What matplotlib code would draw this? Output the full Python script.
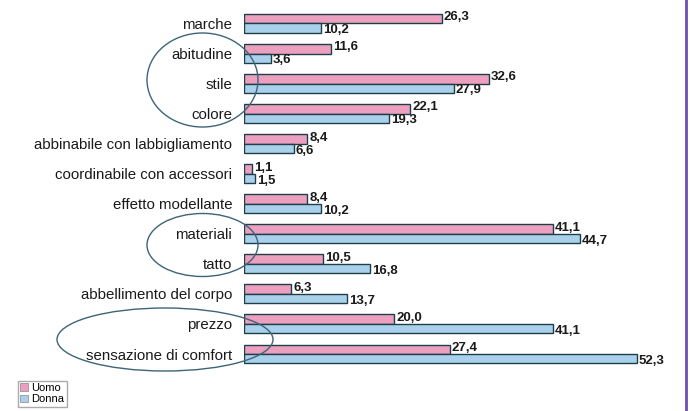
import matplotlib.pyplot as plt
import numpy as np
from matplotlib.patches import Ellipse, Patch
from matplotlib.lines import Line2D

plt.rcParams['font.family'] = ['Liberation Sans', 'DejaVu Sans']

categories = ['marche', 'abitudine', 'stile', 'colore',
              'abbinabile con labbigliamento', 'coordinabile con accessori',
              'effetto modellante', 'materiali', 'tatto',
              'abbellimento del corpo', 'prezzo', 'sensazione di comfort']
uomo = [26.3, 11.6, 32.6, 22.1, 8.4, 1.1, 8.4, 41.1, 10.5, 6.3, 20.0, 27.4]
donna = [10.2, 3.6, 27.9, 19.3, 6.6, 1.5, 10.2, 44.7, 16.8, 13.7, 41.1, 52.3]

pink = '#ec9fbf'
blue = '#a9d1ec'
edge = '#1f3f48'

W, H = 690, 411
fig = plt.figure(figsize=(W / 100, H / 100), dpi=100)
ax = fig.add_axes([244 / W, 1 - 373 / H, 442 / W, 373 / H])

y = np.arange(len(categories))
h = 0.316
ax.barh(y - h / 2, uomo, height=h, color=pink, edgecolor=edge, linewidth=1, label='Uomo')
ax.barh(y + h / 2, donna, height=h, color=blue, edgecolor=edge, linewidth=1, label='Donna')

def fmt(v):
    return f'{v:.1f}'.replace('.', ',')

for yi, u, d in zip(y, uomo, donna):
    ax.annotate(fmt(u), (u, yi - h / 2), xytext=(1.5, 1), textcoords='offset points',
                va='center', ha='left', fontsize=9.5, fontweight='bold', color='#1a1a1a')
    ax.annotate(fmt(d), (d, yi + h / 2), xytext=(1.5, -1.5), textcoords='offset points',
                va='center', ha='left', fontsize=9.5, fontweight='bold', color='#1a1a1a')

ax.set_xlim(0, 442 / 7.51)
ax.set_ylim(11 + 19 / 30.05, -23.5 / 30.05)
ax.set_yticks(y)
ax.set_yticklabels(categories, fontsize=10.8, color='#1a1a1a')
ax.tick_params(axis='y', length=0, pad=8.5)
ax.set_xticks([])
for s in ax.spines.values():
    s.set_visible(False)

# hand-drawn style ellipses around grouped items
ring = '#3d6478'
for cx, cy, w, hh in [(202.5, 80, 111, 94), (202.5, 245, 111, 63), (165, 339.5, 216, 63)]:
    fig.add_artist(Ellipse((cx / W, 1 - cy / H), w / W, hh / H, transform=fig.transFigure,
                           fill=False, edgecolor=ring, linewidth=1))

# frame line on the right
fig.add_artist(Line2D([686 / W, 686 / W], [0, 1], transform=fig.transFigure,
                      color='#6a4fb5', linewidth=2))

handles = [Patch(facecolor=pink, edgecolor='#888888', linewidth=0.5, label='Uomo'),
           Patch(facecolor=blue, edgecolor='#888888', linewidth=0.5, label='Donna')]
fig.legend(handles=handles, loc='upper left', bbox_to_anchor=(18 / W, 1 - 381 / H),
           fontsize=8, handlelength=0.7, handleheight=0.7, handletextpad=0.3,
           borderpad=0.2, labelspacing=0.1, borderaxespad=0, frameon=True, fancybox=False,
           edgecolor='#aaaaaa', framealpha=1)

fig.savefig('out.png', dpi=100)
